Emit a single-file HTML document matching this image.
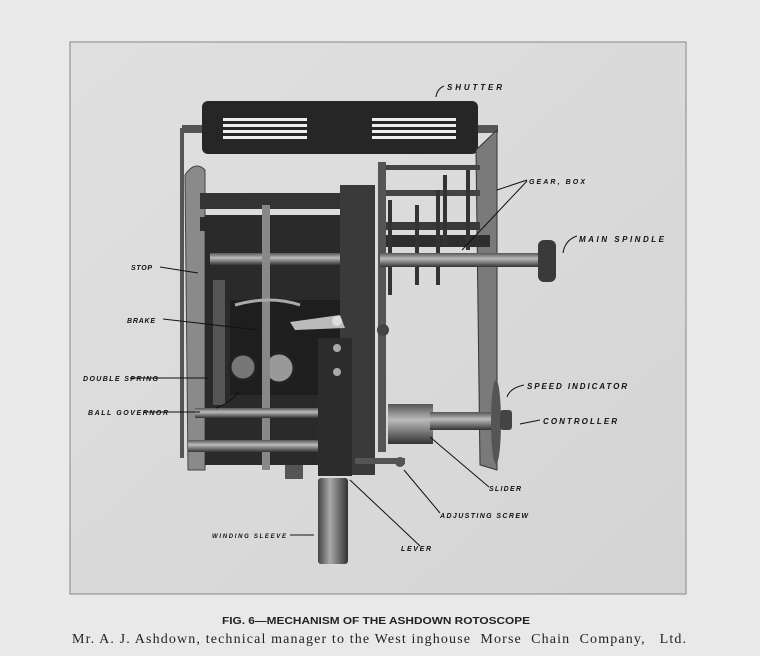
<!DOCTYPE html>
<html><head><style>
html,body{margin:0;padding:0;background:#e9e9e9;width:760px;height:656px;overflow:hidden}
svg{position:absolute;left:0;top:0}
</style></head><body>
<svg width="760" height="656" viewBox="0 0 760 656" xmlns="http://www.w3.org/2000/svg">
<defs>
<linearGradient id="bg" x1="0" y1="0" x2="1" y2="1"><stop offset="0" stop-color="#e0e0e0"/><stop offset="1" stop-color="#d4d4d4"/></linearGradient>
<linearGradient id="sl" x1="0" y1="0" x2="1" y2="0"><stop offset="0" stop-color="#444"/><stop offset=".4" stop-color="#aaa"/><stop offset="1" stop-color="#333"/></linearGradient>
<linearGradient id="rod" x1="0" y1="0" x2="0" y2="1"><stop offset="0" stop-color="#555"/><stop offset=".4" stop-color="#bbb"/><stop offset="1" stop-color="#333"/></linearGradient>
</defs>
<rect x="70" y="42" width="616" height="552" fill="url(#bg)" stroke="#888" stroke-width="1"/>
<rect x="182" y="125" width="316" height="8" fill="#555"/>
<rect x="202" y="101" width="276" height="53" rx="6" fill="#262626"/>
<g fill="#eee"><rect x="223" y="118" width="84" height="3"/><rect x="223" y="124" width="84" height="3"/><rect x="223" y="130" width="84" height="3"/><rect x="223" y="136" width="84" height="3"/>
<rect x="372" y="118" width="84" height="3"/><rect x="372" y="124" width="84" height="3"/><rect x="372" y="130" width="84" height="3"/><rect x="372" y="136" width="84" height="3"/></g>
<rect x="180" y="128" width="4" height="330" fill="#555"/>
<path d="M185 175 Q195 160 205 170 L205 470 L188 470 Z" fill="#8a8a8a" stroke="#444"/>
<path d="M476 150 L497 130 L497 470 L480 465 Z" fill="#7a7a7a" stroke="#333"/>
<rect x="380" y="165" width="100" height="5" fill="#444"/>
<rect x="380" y="190" width="100" height="6" fill="#444"/>
<rect x="380" y="222" width="100" height="8" fill="#3a3a3a"/>
<rect x="380" y="235" width="110" height="12" fill="#2e2e2e"/>
<g fill="#333"><rect x="388" y="200" width="4" height="95"/><rect x="415" y="205" width="4" height="80"/><rect x="436" y="190" width="4" height="95"/><rect x="443" y="175" width="4" height="70"/><rect x="466" y="170" width="4" height="80"/></g>
<rect x="378" y="162" width="8" height="290" fill="#555"/>
<rect x="380" y="253" width="160" height="14" fill="url(#rod)"/>
<rect x="538" y="240" width="18" height="42" rx="6" fill="#3a3a3a"/>
<rect x="205" y="215" width="170" height="250" fill="#2a2a2a"/>
<rect x="200" y="193" width="140" height="16" fill="#333"/>
<rect x="200" y="217" width="140" height="14" fill="#2a2a2a"/>
<rect x="210" y="253" width="160" height="12" fill="url(#rod)"/>
<rect x="340" y="185" width="35" height="290" fill="#3a3a3a"/>
<rect x="213" y="280" width="12" height="125" fill="#555"/>
<rect x="230" y="300" width="110" height="95" fill="#1e1e1e"/>
<circle cx="243" cy="367" r="13" fill="#777" stroke="#222" stroke-width="3"/>
<circle cx="279" cy="368" r="15" fill="#999" stroke="#222" stroke-width="3"/>
<rect x="262" y="205" width="8" height="265" fill="#888"/>
<path d="M235 305 Q270 295 300 305" stroke="#aaa" stroke-width="3" fill="none"/>
<path d="M290 322 L340 315 L345 328 L295 330 Z" fill="#bbb"/>
<circle cx="337" cy="321" r="5" fill="#ddd"/>
<rect x="195" y="408" width="130" height="10" fill="url(#rod)"/>
<rect x="188" y="440" width="140" height="12" fill="url(#rod)"/>
<rect x="318" y="338" width="34" height="138" fill="#2c2c2c"/>
<circle cx="337" cy="348" r="4" fill="#aaa"/><circle cx="337" cy="372" r="4" fill="#aaa"/>
<rect x="318" y="478" width="30" height="86" rx="3" fill="url(#sl)"/>
<rect x="285" y="465" width="18" height="14" fill="#555"/>
<rect x="388" y="404" width="45" height="40" fill="url(#rod)"/>
<rect x="430" y="412" width="65" height="18" fill="url(#rod)"/>
<ellipse cx="496" cy="422" rx="5" ry="42" fill="#555"/>
<rect x="500" y="410" width="12" height="20" rx="3" fill="#444"/>
<circle cx="383" cy="330" r="6" fill="#444"/>
<rect x="355" y="458" width="50" height="6" fill="#555"/>
<circle cx="400" cy="462" r="5" fill="#555"/>
<g font-family="Liberation Sans, sans-serif" font-size="8" font-weight="bold" font-style="italic" fill="#111" lengthAdjust="spacing">
<text x="447" y="90" textLength="55">SHUTTER</text>
<text x="529" y="184" font-size="7" textLength="56">GEAR, BOX</text>
<text x="579" y="242" textLength="85">MAIN   SPINDLE</text>
<text x="131" y="270" font-size="7" textLength="21">STOP</text>
<text x="127" y="323" font-size="7" textLength="28">BRAKE</text>
<text x="83" y="381" font-size="7" textLength="75">DOUBLE  SPRING</text>
<text x="88" y="415" font-size="7" textLength="80">BALL  GOVERNOR</text>
<text x="527" y="389" textLength="100">SPEED  INDICATOR</text>
<text x="543" y="424" textLength="74">CONTROLLER</text>
<text x="489" y="491" font-size="7" textLength="32">SLIDER</text>
<text x="440" y="518" font-size="7" textLength="88">ADJUSTING  SCREW</text>
<text x="212" y="538" font-size="6" textLength="74">WINDING  SLEEVE</text>
<text x="401" y="551" font-size="7" textLength="30">LEVER</text>
</g>
<g stroke="#111" stroke-width="1" fill="none">
<path d="M444 86 Q437 89 436 97"/>
<path d="M527 180 L497 190 M527 181 L462 250"/>
<path d="M577 236 Q565 240 563 253"/>
<path d="M160 267 L198 273"/>
<path d="M163 319 L258 330"/>
<path d="M130 378 L208 378"/>
<path d="M143 412 L200 412 M216 408 Q232 402 238 392"/>
<path d="M524 385 Q510 388 507 397"/>
<path d="M540 420 L520 424"/>
<path d="M489 487 L430 437"/>
<path d="M440 513 L404 470"/>
<path d="M420 546 L350 480"/>
<path d="M290 535 L314 535"/>
</g>
<text x="222" y="624" font-family="Liberation Sans, sans-serif" font-size="10" font-weight="bold" fill="#222" textLength="308" lengthAdjust="spacingAndGlyphs">FIG. 6—MECHANISM  OF  THE  ASHDOWN  ROTOSCOPE</text>
<text x="72" y="643" font-family="Liberation Serif, serif" font-size="14" fill="#222" textLength="614" lengthAdjust="spacing" xml:space="preserve">Mr. A. J. Ashdown, technical manager to the West inghouse  Morse  Chain  Company,   Ltd.</text>
</svg>
</body></html>
